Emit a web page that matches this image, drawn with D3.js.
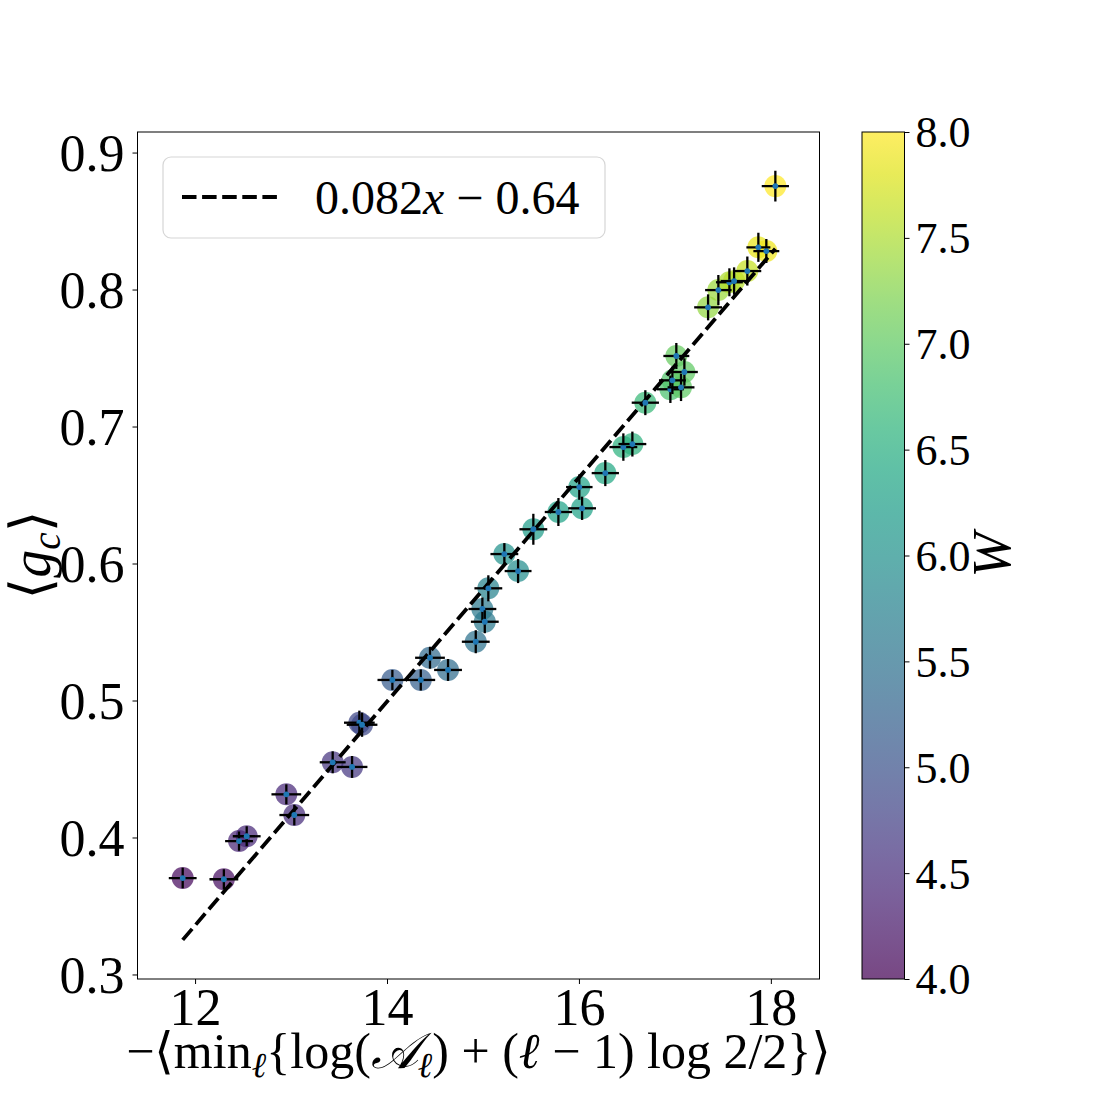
<!DOCTYPE html>
<html>
<head>
<meta charset="utf-8">
<script src="https://cdn.jsdelivr.net/npm/d3@7"></script>
<style>
  html, body { margin: 0; padding: 0; background: #fff; }
  svg text { font-family: "Liberation Serif", "DejaVu Serif", serif; fill: #000; }
</style>
</head>
<body>
<svg id="chart" width="1100" height="1100"></svg>
<script>
// x: -<min_l{log(A_l) + (l-1) log2/2}>, y: <g_c>, colour: W
const xVals = [11.871, 12.300, 12.458, 12.538, 12.951, 13.034, 13.434, 13.636, 13.712, 13.740,
  14.056, 14.352, 14.448, 14.636, 14.925, 14.994, 15.019, 15.056, 15.223, 15.366,
  15.525, 15.786, 16.004, 16.033, 16.275, 16.463, 16.557, 16.692, 16.953, 16.974,
  17.015, 17.064, 17.099, 17.346, 17.453, 17.568, 17.617, 17.755, 17.870, 17.953, 18.047];
const yVals = [0.3704, 0.3695, 0.3974, 0.4009, 0.4315, 0.4164, 0.4549, 0.4515, 0.4838, 0.4823,
  0.5150, 0.5150, 0.5312, 0.5223, 0.5429, 0.5668, 0.5575, 0.5819, 0.6069, 0.5945,
  0.6250, 0.6376, 0.6558, 0.6403, 0.6660, 0.6850, 0.6872, 0.7174, 0.7272, 0.7337,
  0.7515, 0.7286, 0.7398, 0.7870, 0.7996, 0.8053, 0.8062, 0.8135, 0.8308, 0.8281, 0.8755];
const wVals = [4.1, 4.15, 4.4, 4.45, 4.45, 4.5, 4.6, 4.65, 4.85, 4.9,
  5.15, 5.2, 5.35, 5.4, 5.5, 5.6, 5.6, 5.75, 6.0, 5.95,
  6.2, 6.3, 6.3, 6.3, 6.4, 6.55, 6.55, 6.7, 6.85, 6.9,
  7.05, 7.0, 7.0, 7.35, 7.4, 7.5, 7.55, 7.65, 7.85, 7.9, 8.0];
const xErr = [0.145, 0.15, 0.145, 0.145, 0.155, 0.155, 0.135, 0.16, 0.16, 0.16,
  0.155, 0.15, 0.155, 0.145, 0.145, 0.145, 0.145, 0.145, 0.145, 0.14,
  0.145, 0.142, 0.138, 0.145, 0.142, 0.145, 0.145, 0.142, 0.14, 0.14,
  0.135, 0.14, 0.14, 0.145, 0.138, 0.14, 0.14, 0.145, 0.125, 0.135, 0.142];
const yErr = [0.0075, 0.0073, 0.007, 0.0073, 0.0073, 0.0075, 0.008, 0.008, 0.0088, 0.0088,
  0.0073, 0.0077, 0.008, 0.008, 0.0084, 0.0084, 0.0084, 0.0095, 0.008, 0.0088,
  0.0113, 0.0102, 0.0093, 0.0085, 0.0095, 0.01, 0.0091, 0.0091, 0.01, 0.01,
  0.0095, 0.01, 0.01, 0.0095, 0.011, 0.0102, 0.01, 0.0106, 0.0106, 0.0088, 0.0113];

// linear fit drawn over the data range
const fitSlope = 0.0817;
const fitIntercept = -0.6446;
const fitLabel = '0.082x − 0.64';

const xTicks = [12, 14, 16, 18];
const yTicks = [0.3, 0.4, 0.5, 0.6, 0.7, 0.8, 0.9];
const wTicks = [4.0, 4.5, 5.0, 5.5, 6.0, 6.5, 7.0, 7.5, 8.0];

const plot = { left: 137.5, right: 819.5, top: 132, bottom: 979 };
const cbar = { left: 862, right: 904.5, top: 132, bottom: 979 };

const svg = d3.select('#chart');
const x = d3.scaleLinear().domain([11.40, 18.507]).range([plot.left, plot.right]);
const y = d3.scaleLinear().domain([0.2967, 0.915]).range([plot.bottom, plot.top]);
const color = d3.scaleSequential(d3.interpolateViridis).domain([4, 8]);
const alpha = 0.72;
const dash = '14.5,5.6';

const pts = xVals.map((v, i) => ({ x: v, y: yVals[i], w: wVals[i], xe: xErr[i], ye: yErr[i] }));

// axes ticks
const xAxis = svg.append('g')
  .attr('transform', `translate(0,${plot.bottom})`)
  .call(d3.axisBottom(x).tickValues(xTicks).tickFormat(d3.format('d')).tickSize(5).tickPadding(4));
const yAxis = svg.append('g')
  .attr('transform', `translate(${plot.left},0)`)
  .call(d3.axisLeft(y).tickValues(yTicks).tickFormat(d3.format('.1f')).tickSize(5).tickPadding(8));
for (const ax of [xAxis, yAxis]) {
  ax.select('.domain').remove();
  ax.selectAll('.tick line').attr('stroke', '#000').attr('stroke-width', 1);
  ax.selectAll('.tick text').attr('font-size', 52).attr('font-family', '"Liberation Serif", serif');
}
yAxis.selectAll('.tick text').attr('dy', '0.34em');

svg.append('clipPath').attr('id', 'clip').append('rect')
  .attr('x', plot.left).attr('y', plot.top)
  .attr('width', plot.right - plot.left).attr('height', plot.bottom - plot.top);
const g = svg.append('g').attr('clip-path', 'url(#clip)');

// scatter circles coloured by W
g.selectAll('circle.pt')
  .data(pts)
  .join('circle')
  .attr('class', 'pt')
  .attr('cx', d => x(d.x))
  .attr('cy', d => y(d.y))
  .attr('r', 11)
  .attr('fill', d => color(d.w))
  .attr('fill-opacity', alpha);

// fit line
const [xMin, xMax] = d3.extent(xVals);
const line = d3.line().x(d => x(d)).y(d => y(fitSlope * d + fitIntercept));
g.append('path')
  .attr('d', line([xMin, xMax]))
  .attr('fill', 'none')
  .attr('stroke', '#000')
  .attr('stroke-width', 3.8)
  .attr('stroke-dasharray', dash);

// error bars
const eb = g.selectAll('g.eb').data(pts).join('g').attr('class', 'eb');
eb.append('line')
  .attr('x1', d => x(d.x - d.xe)).attr('x2', d => x(d.x + d.xe))
  .attr('y1', d => y(d.y)).attr('y2', d => y(d.y));
eb.append('line')
  .attr('x1', d => x(d.x)).attr('x2', d => x(d.x))
  .attr('y1', d => y(d.y - d.ye)).attr('y2', d => y(d.y + d.ye));
eb.selectAll('line').attr('stroke', '#000').attr('stroke-width', 2.3);
eb.append('circle')
  .attr('cx', d => x(d.x)).attr('cy', d => y(d.y))
  .attr('r', 2.9).attr('fill', '#1f77b4');

// frame
svg.append('rect')
  .attr('x', plot.left).attr('y', plot.top)
  .attr('width', plot.right - plot.left).attr('height', plot.bottom - plot.top)
  .attr('fill', 'none').attr('stroke', '#000').attr('stroke-width', 1);

// legend
const leg = svg.append('g');
leg.append('rect')
  .attr('x', 163).attr('y', 157).attr('width', 442).attr('height', 81)
  .attr('rx', 8).attr('fill', '#fff').attr('fill-opacity', 0.8)
  .attr('stroke', '#d6d6d6').attr('stroke-width', 1.2);
leg.append('line')
  .attr('x1', 182).attr('x2', 278).attr('y1', 197).attr('y2', 197)
  .attr('stroke', '#000').attr('stroke-width', 3.8).attr('stroke-dasharray', dash);
const lt = leg.append('text').attr('x', 315).attr('y', 214).attr('font-size', 48);
const fitParts = fitLabel.split('x');
lt.append('tspan').text(fitParts[0]);
lt.append('tspan').attr('font-style', 'italic').text('x');
lt.append('tspan').text(fitParts[1]);

// axis labels
const xl = svg.append('text')
  .attr('x', (plot.left + plot.right) / 2).attr('y', 1068)
  .attr('text-anchor', 'middle').attr('font-size', 50);
xl.append('tspan').text('−⟨min');
xl.append('tspan').attr('font-style', 'italic').attr('font-size', 35).attr('dy', 9).text('ℓ');
xl.append('tspan').attr('dy', -9).text('{log(');
xl.append('tspan').attr('font-style', 'italic').text('𝒜');
xl.append('tspan').attr('font-style', 'italic').attr('font-size', 35).attr('dy', 9).text('ℓ');
xl.append('tspan').attr('dy', -9).text(') + (');
xl.append('tspan').attr('font-style', 'italic').text('ℓ');
xl.append('tspan').text(' − 1) log 2/2}⟩');

const yl = svg.append('text')
  .attr('transform', 'translate(50,555) rotate(-90)')
  .attr('text-anchor', 'middle').attr('font-size', 56);
yl.append('tspan').text('⟨');
yl.append('tspan').attr('font-style', 'italic').text('g');
yl.append('tspan').attr('font-style', 'italic').attr('font-size', 39).attr('dy', 10).text('c');
yl.append('tspan').attr('dy', -10).text('⟩');

// colorbar
const grad = svg.append('defs').append('linearGradient')
  .attr('id', 'cgrad').attr('x1', 0).attr('x2', 0).attr('y1', 1).attr('y2', 0);
grad.selectAll('stop')
  .data(d3.range(0, 1.0001, 0.05))
  .join('stop')
  .attr('offset', d => d)
  .attr('stop-color', d => d3.interpolateViridis(d));
svg.append('rect')
  .attr('x', cbar.left).attr('y', cbar.top)
  .attr('width', cbar.right - cbar.left).attr('height', cbar.bottom - cbar.top)
  .attr('fill', 'url(#cgrad)').attr('fill-opacity', alpha);
svg.append('rect')
  .attr('x', cbar.left).attr('y', cbar.top)
  .attr('width', cbar.right - cbar.left).attr('height', cbar.bottom - cbar.top)
  .attr('fill', 'none').attr('stroke', '#000').attr('stroke-width', 1);
const cy = d3.scaleLinear().domain([4, 8]).range([cbar.bottom, cbar.top]);
const cAxis = svg.append('g')
  .attr('transform', `translate(${cbar.right},0)`)
  .call(d3.axisRight(cy).tickValues(wTicks).tickFormat(d3.format('.1f')).tickSize(5).tickPadding(6));
cAxis.select('.domain').remove();
cAxis.selectAll('.tick line').attr('stroke', '#000');
cAxis.selectAll('.tick text').attr('font-size', 44).attr('dy', '0.34em')
  .attr('font-family', '"Liberation Serif", serif');
svg.append('text')
  .attr('transform', 'translate(1010,555) rotate(-90)')
  .attr('text-anchor', 'middle').attr('font-size', 54).attr('font-style', 'italic').text('W');
</script>
</body>
</html>
